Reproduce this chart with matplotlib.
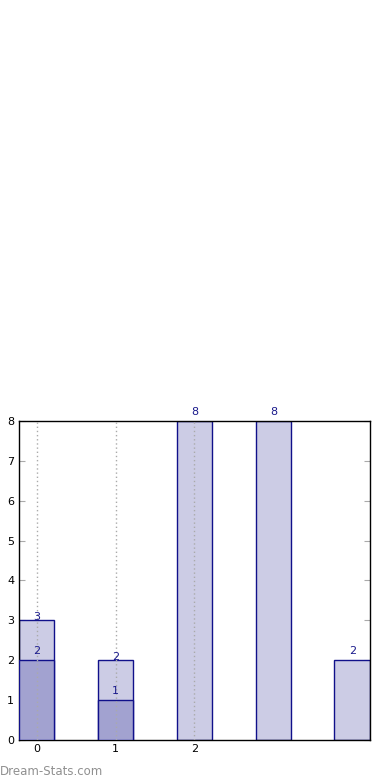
import numpy as np
import matplotlib
matplotlib.use('Agg')
import matplotlib.pyplot as plt

# data
positions = [0, 1, 2, 3, 4]
back_vals = [3, 2, 8, 8, 2]
front_pos = [0, 1]
front_vals = [2, 1]
tick_pos = [0, 1, 2]
tick_labels = ['0', '1', '2']

# label offset above bar top (pixels)
back_offsets = [3, 3, 9, 9, 9]
front_offsets = [9, 9]

fig = plt.figure(figsize=(3.9, 7.8), dpi=100)
ax = fig.add_axes([0.0487, 0.0513, 0.9, 0.4090])

w = 0.45
ax.bar(positions, back_vals, width=w, color='#ccccE5', edgecolor='#10108a', linewidth=1, zorder=2)
ax.bar(front_pos, front_vals, width=w, color='#a2a2d0', edgecolor='#10108a', linewidth=1, zorder=3)

for x, v, o in zip(positions, back_vals, back_offsets):
    ax.annotate(str(v), (x, v), xytext=(0, o), textcoords='offset pixels', ha='center', va='center',
                fontsize=8, color='#1a1a8c', zorder=5, annotation_clip=False)
for x, v, o in zip(front_pos, front_vals, front_offsets):
    ax.annotate(str(v), (x, v), xytext=(0, o), textcoords='offset pixels', ha='center', va='center',
                fontsize=8, color='#1a1a8c', zorder=5, annotation_clip=False)

ax.set_xlim(-0.225, 4.225)
ax.set_ylim(0, 8)
ax.set_xticks(tick_pos)
ax.set_xticklabels(tick_labels)
ax.set_yticks(range(0, 9))
ax.tick_params(direction='in', length=4, color='#aaaaaa', labelsize=8, top=False, right=True)
ax.tick_params(axis='x', bottom=False, pad=3)
for t in tick_pos:
    ax.axvline(t, color='#aaaaaa', linestyle=(0, (1, 2)), linewidth=1, zorder=4)
for s in ax.spines.values():
    s.set_color('black')
    s.set_linewidth(1)

fig.text(0.0, 0.003, 'Dream-Stats.com', fontsize=8.5, color='#909090', ha='left', va='bottom')

fig.savefig('out.png', dpi=100)
